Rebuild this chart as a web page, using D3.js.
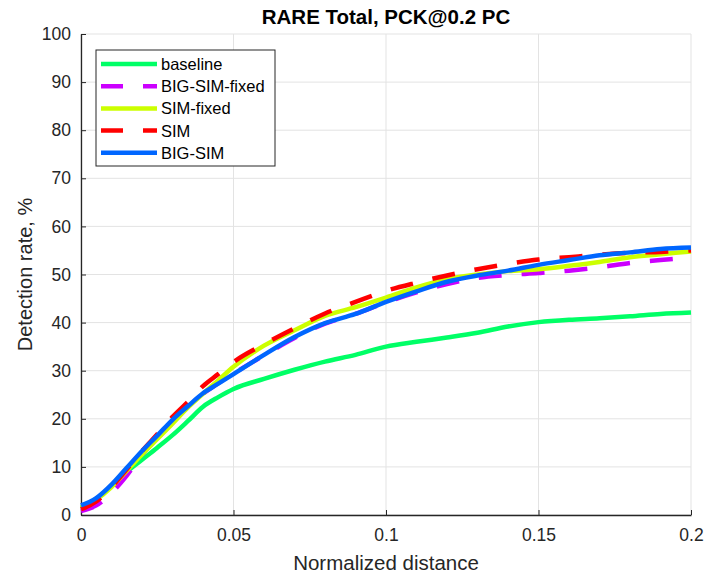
<!DOCTYPE html>
<html>
<head>
<meta charset="utf-8">
<script src="https://cdn.jsdelivr.net/npm/d3@7"></script>
<style>
    body { margin: 0; background: #fff; }
    svg text { font-family: "Liberation Sans", Arial, sans-serif; }
</style>
</head>
<body>
<svg id="chart" width="706" height="575"></svg>
<script>
// normalized distance samples
const xs = [0, 0.005, 0.01, 0.015, 0.02, 0.025, 0.03, 0.035, 0.04, 0.045, 0.05,
    0.06, 0.07, 0.08, 0.09, 0.1, 0.11, 0.12, 0.13, 0.14, 0.15, 0.16, 0.17, 0.18, 0.19, 0.2];

const baseline = [1.5, 3.3, 6.0, 9.0, 11.5, 14.0, 16.6, 19.5, 22.5, 24.5, 26.2,
    28.3, 30.2, 31.9, 33.3, 35.0, 36.0, 36.9, 37.9, 39.2, 40.1, 40.6, 40.9, 41.3, 41.8, 42.1];
const bigSimFixed = [0.8, 2.0, 4.6, 8.2, 12.5, 16.0, 19.5, 22.5, 25.2, 27.4, 29.4,
    33.2, 36.8, 39.8, 41.8, 44.2, 46.3, 48.0, 49.3, 49.9, 50.3, 50.8, 51.5, 52.4, 53.0, 53.5];
const simFixed = [1.5, 3.2, 5.8, 9.2, 12.6, 15.8, 19.0, 22.3, 25.2, 28.0, 30.8,
    35.2, 38.4, 41.4, 43.2, 45.2, 47.3, 49.0, 50.0, 50.7, 51.1, 51.8, 52.6, 53.6, 54.2, 54.8];
const sim = [1.2, 2.8, 5.8, 9.5, 13.3, 16.8, 20.4, 23.5, 26.8, 29.3, 31.8,
    35.5, 38.8, 41.9, 44.3, 46.6, 48.3, 49.8, 51.1, 52.2, 53.1, 53.6, 54.1, 54.5, 54.7, 55.0];
const bigSim = [2.0, 3.5, 6.3, 9.8, 13.3, 16.5, 19.8, 22.6, 25.3, 27.3, 29.3,
    33.3, 37.0, 39.9, 41.8, 44.3, 46.5, 48.5, 49.8, 50.8, 52.0, 53.0, 54.0, 54.6, 55.3, 55.6];

const seriesNames = ["baseline", "BIG-SIM-fixed", "SIM-fixed", "SIM", "BIG-SIM"];
const seriesValues = [baseline, bigSimFixed, simFixed, sim, bigSim];
const seriesColors = ["#00ff66", "#cc00ff", "#ccff00", "#ff0000", "#0066ff"];
const seriesDashed = [false, true, false, true, false];

const xTicks = [0, 0.05, 0.1, 0.15, 0.2];
const yTicks = [0, 10, 20, 30, 40, 50, 60, 70, 80, 90, 100];

const svg = d3.select("#chart");
const margin = { left: 81, right: 15, top: 34, bottom: 60 };
const width = 706, height = 575;

const x = d3.scaleLinear().domain([0, 0.2]).range([margin.left, width - margin.right]);
const y = d3.scaleLinear().domain([0, 100]).range([height - margin.bottom, margin.top]);

const axisColor = "#262626";

// grid
svg.append("g")
    .selectAll("line.vg")
    .data(xTicks)
    .enter().append("line")
    .attr("x1", d => x(d)).attr("x2", d => x(d))
    .attr("y1", y(0)).attr("y2", y(100))
    .attr("stroke", "#e3e3e3").attr("stroke-width", 1);

svg.append("g")
    .selectAll("line.hg")
    .data(yTicks)
    .enter().append("line")
    .attr("x1", x(0)).attr("x2", x(0.2))
    .attr("y1", d => y(d)).attr("y2", d => y(d))
    .attr("stroke", "#e3e3e3").attr("stroke-width", 1);

// axes, ticks pointing inward like matlab
const xAxis = svg.append("g")
    .attr("transform", `translate(0,${y(0)})`)
    .call(d3.axisBottom(x).tickValues(xTicks).tickSizeInner(-5).tickSizeOuter(0)
        .tickPadding(14).tickFormat(d => d === 0 ? "0" : String(+d.toFixed(2))));

const yAxis = svg.append("g")
    .attr("transform", `translate(${x(0)},0)`)
    .call(d3.axisLeft(y).tickValues(yTicks).tickSizeInner(-5).tickSizeOuter(0).tickPadding(10));

[xAxis, yAxis].forEach(a => {
    a.select(".domain").attr("stroke", axisColor).attr("stroke-width", 1.3);
    a.selectAll(".tick line").attr("stroke", axisColor);
    a.selectAll(".tick text")
        .attr("fill", axisColor)
        .style("font-size", "17.5px");
});

// lines
const line = d3.line()
    .x((d, i) => x(xs[i]))
    .y(d => y(d))
    .curve(d3.curveMonotoneX);

seriesValues.forEach((vals, k) => {
    svg.append("path")
        .datum(vals)
        .attr("fill", "none")
        .attr("stroke", seriesColors[k])
        .attr("stroke-width", 4.5)
        .attr("stroke-dasharray", seriesDashed[k] ? "23,20" : null)
        .attr("d", line);
});

// title and labels
svg.append("text")
    .attr("x", (x(0) + x(0.2)) / 2)
    .attr("y", 24)
    .attr("text-anchor", "middle")
    .style("font-size", "20.5px")
    .style("font-weight", "bold")
    .attr("fill", "#000")
    .text("RARE Total, PCK@0.2 PC");

svg.append("text")
    .attr("x", (x(0) + x(0.2)) / 2)
    .attr("y", 570)
    .attr("text-anchor", "middle")
    .style("font-size", "20.5px")
    .attr("fill", axisColor)
    .text("Normalized distance");

svg.append("text")
    .attr("transform", `translate(32,${(y(0) + y(100)) / 2}) rotate(-90)`)
    .attr("text-anchor", "middle")
    .style("font-size", "20px")
    .attr("fill", axisColor)
    .text("Detection rate, %");

// legend
const legend = svg.append("g").attr("transform", "translate(96,50)");
legend.append("rect")
    .attr("width", 179).attr("height", 116)
    .attr("fill", "#fff")
    .attr("stroke", axisColor).attr("stroke-width", 1);

seriesNames.forEach((name, k) => {
    const ly = 14 + k * 22.2;
    legend.append("line")
        .attr("x1", 5).attr("x2", 61)
        .attr("y1", ly).attr("y2", ly)
        .attr("stroke", seriesColors[k])
        .attr("stroke-width", 4.5)
        .attr("stroke-dasharray", seriesDashed[k] ? "22,20" : null);
    legend.append("text")
        .attr("x", 65).attr("y", ly + 6)
        .style("font-size", "16.5px")
        .attr("fill", "#000")
        .text(name);
});
</script>
</body>
</html>
